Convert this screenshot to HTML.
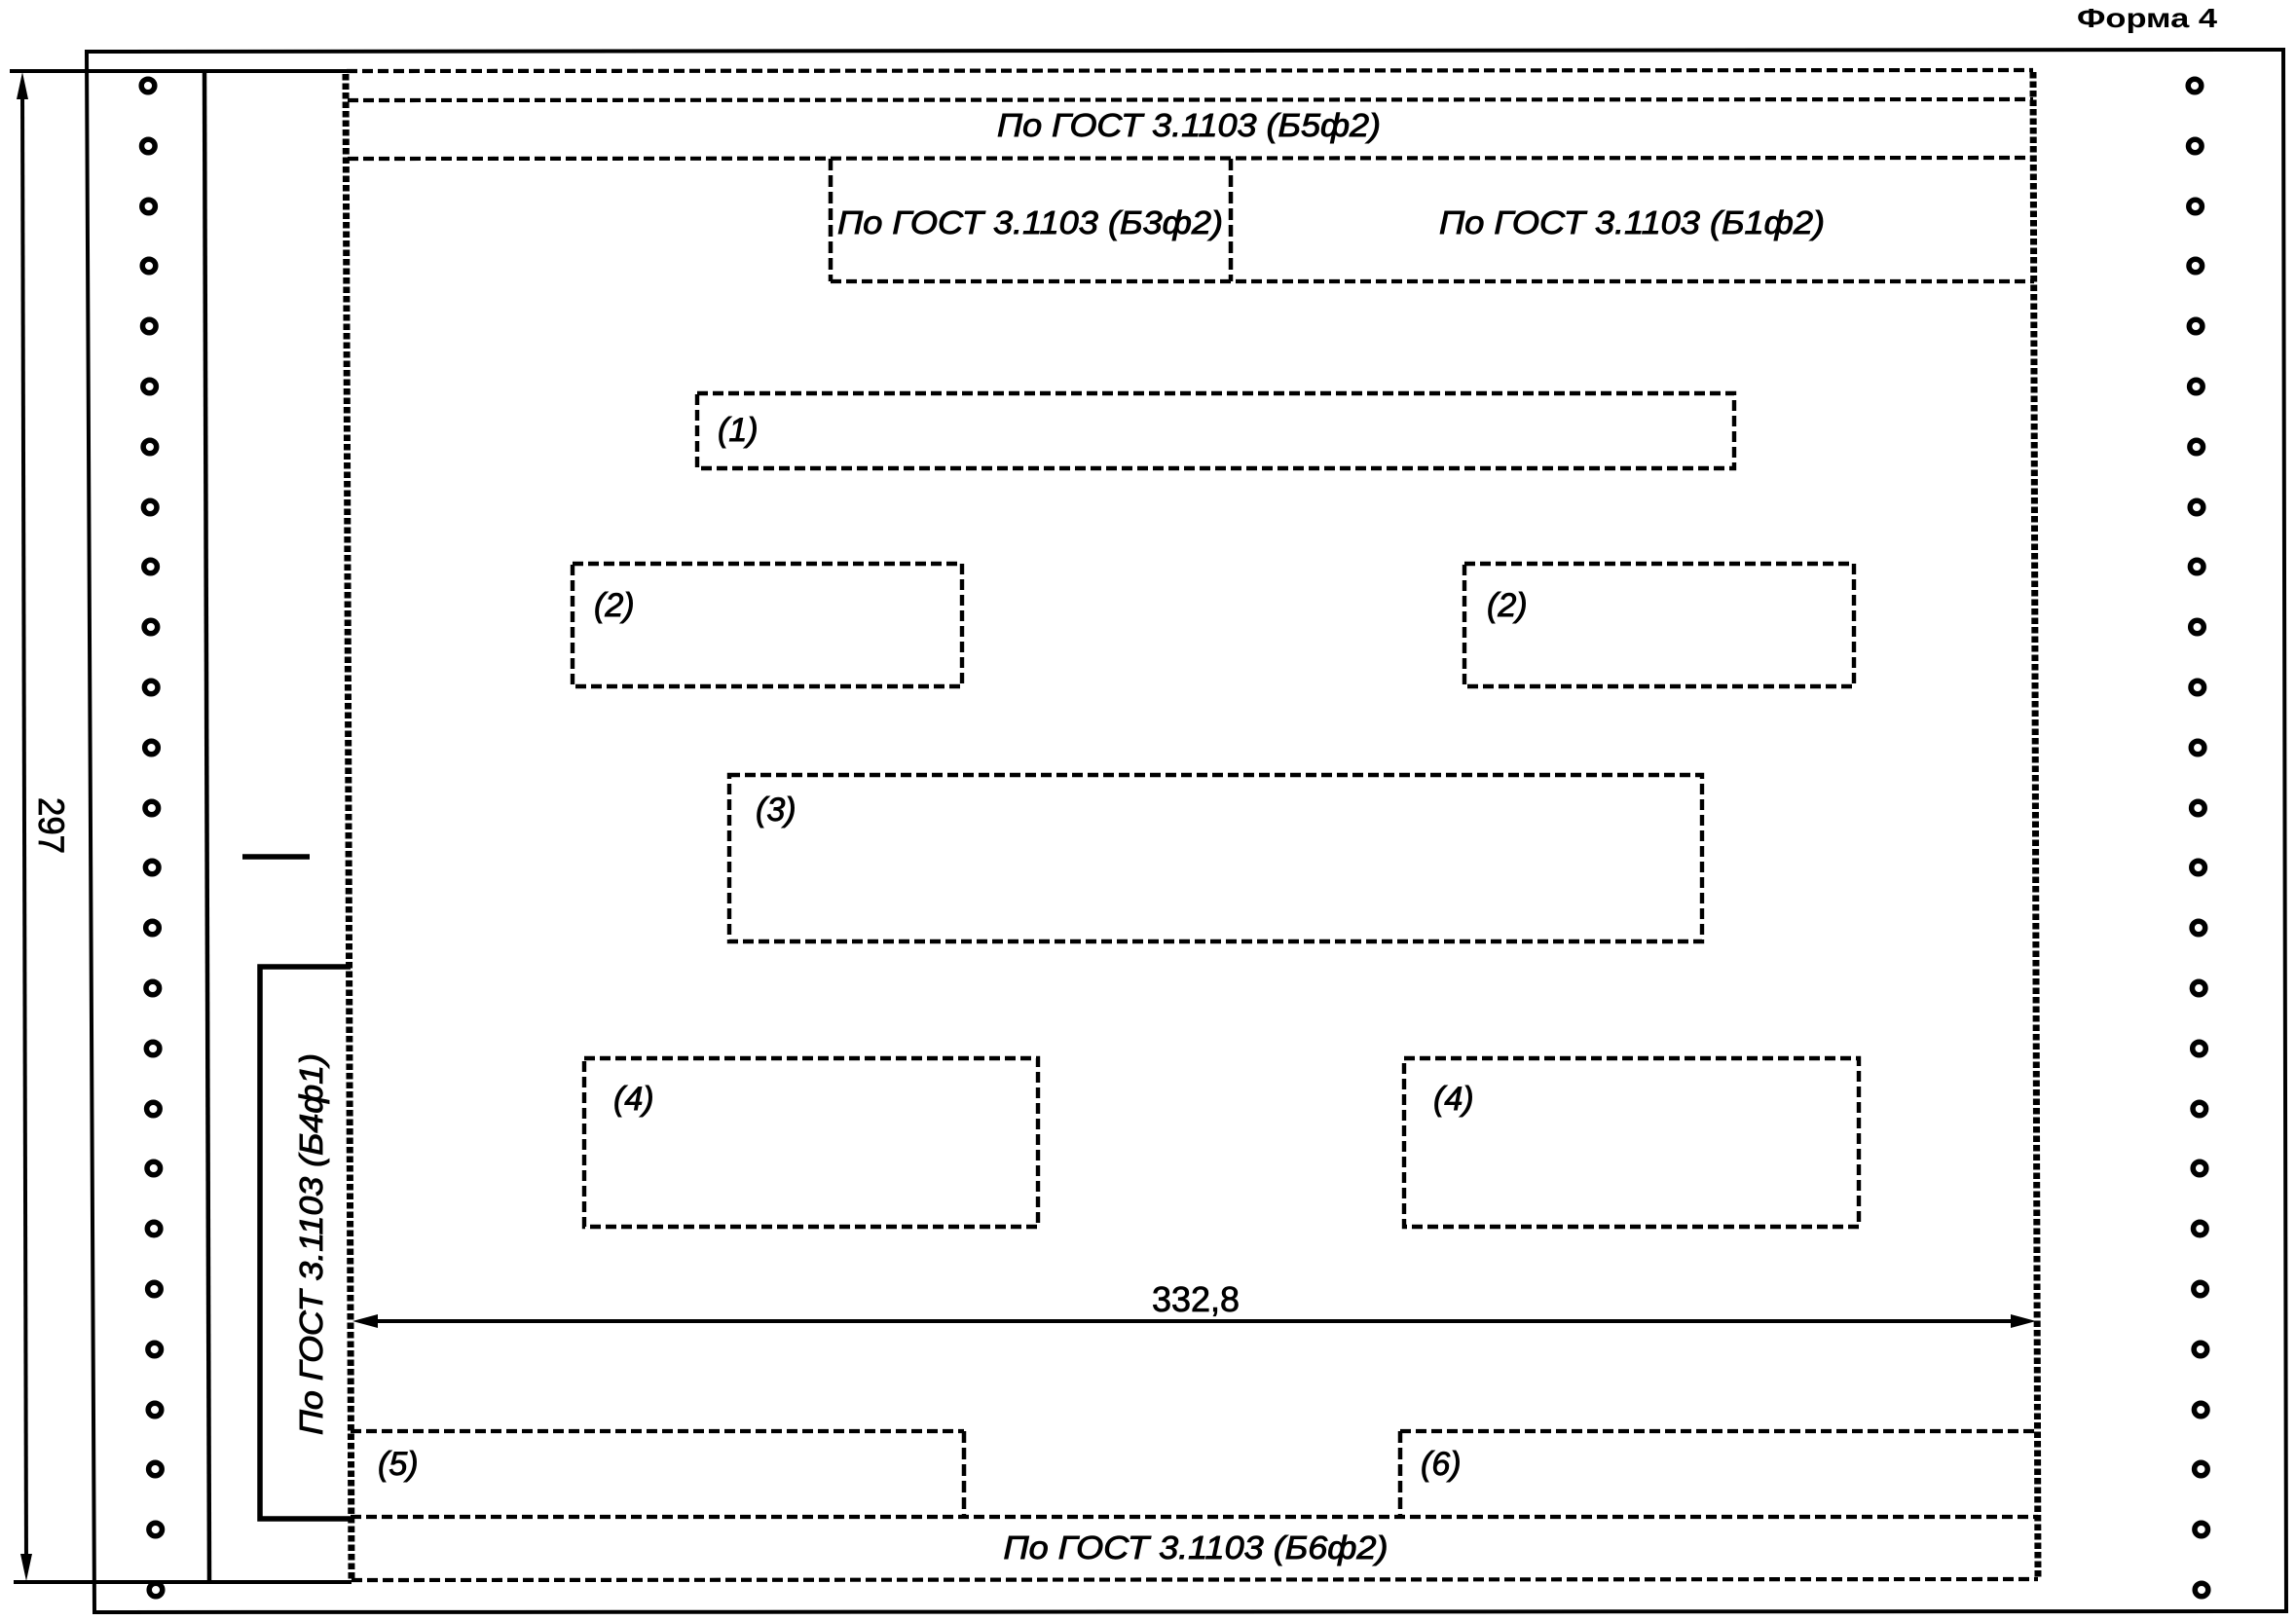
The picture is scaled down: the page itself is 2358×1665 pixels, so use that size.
<!DOCTYPE html>
<html>
<head>
<meta charset="utf-8">
<style>
html,body{margin:0;padding:0;background:#fff;}
svg{display:block;}
text{font-family:"Liberation Sans",Arial,sans-serif;fill:#000;}
.it{font-style:italic;font-size:33px;stroke:#000;stroke-width:0.9px;}
.lb{font-style:italic;font-size:34px;stroke:#000;stroke-width:0.9px;}
</style>
</head>
<body>
<svg width="2358" height="1665" viewBox="0 0 2358 1665" xmlns="http://www.w3.org/2000/svg">
<rect width="2358" height="1665" fill="#fff"/>

<!-- Форма 4 -->
<text x="2133" y="28" font-size="28" font-weight="bold" textLength="144" lengthAdjust="spacingAndGlyphs">Форма 4</text>

<!-- outer frame -->
<polygon points="89,53 2345,51 2348,1655 97,1656" fill="none" stroke="#000" stroke-width="4"/>

<!-- dimension 297 -->
<line x1="10" y1="73" x2="356" y2="73" stroke="#000" stroke-width="4"/>
<line x1="14" y1="1625" x2="361" y2="1625" stroke="#000" stroke-width="4"/>
<line x1="23" y1="90" x2="27" y2="1608" stroke="#000" stroke-width="4"/>
<polygon points="23,74 17,102 29,102" fill="#000"/>
<polygon points="27,1624 21,1596 33,1596" fill="#000"/>
<text transform="translate(40,848) rotate(90)" text-anchor="middle" font-size="37" stroke="#000" stroke-width="0.8" textLength="58" lengthAdjust="spacingAndGlyphs">297</text>

<!-- strip right line -->
<line x1="210" y1="73" x2="215" y2="1625" stroke="#000" stroke-width="4.5"/>

<!-- holes -->
<g fill="none" stroke="#000" stroke-width="5.5">
<circle cx="152" cy="88" r="6.8"/><circle cx="152.3" cy="150" r="6.8"/><circle cx="152.6" cy="212" r="6.8"/><circle cx="153" cy="273" r="6.8"/><circle cx="153.3" cy="335" r="6.8"/><circle cx="153.6" cy="397" r="6.8"/><circle cx="153.9" cy="459" r="6.8"/><circle cx="154.2" cy="521" r="6.8"/><circle cx="154.6" cy="582" r="6.8"/><circle cx="154.9" cy="644" r="6.8"/><circle cx="155.2" cy="706" r="6.8"/><circle cx="155.5" cy="768" r="6.8"/><circle cx="155.8" cy="830" r="6.8"/><circle cx="156.2" cy="891" r="6.8"/><circle cx="156.5" cy="953" r="6.8"/><circle cx="156.8" cy="1015" r="6.8"/><circle cx="157.1" cy="1077" r="6.8"/><circle cx="157.4" cy="1139" r="6.8"/><circle cx="157.8" cy="1200" r="6.8"/><circle cx="158.1" cy="1262" r="6.8"/><circle cx="158.4" cy="1324" r="6.8"/><circle cx="158.7" cy="1386" r="6.8"/><circle cx="159" cy="1448" r="6.8"/><circle cx="159.4" cy="1509" r="6.8"/><circle cx="159.7" cy="1571" r="6.8"/><circle cx="160" cy="1633" r="6.8"/>
<circle cx="2254" cy="88" r="6.8"/><circle cx="2254.3" cy="150" r="6.8"/><circle cx="2254.6" cy="212" r="6.8"/><circle cx="2254.8" cy="273" r="6.8"/><circle cx="2255.1" cy="335" r="6.8"/><circle cx="2255.4" cy="397" r="6.8"/><circle cx="2255.7" cy="459" r="6.8"/><circle cx="2256" cy="521" r="6.8"/><circle cx="2256.2" cy="582" r="6.8"/><circle cx="2256.5" cy="644" r="6.8"/><circle cx="2256.8" cy="706" r="6.8"/><circle cx="2257.1" cy="768" r="6.8"/><circle cx="2257.4" cy="830" r="6.8"/><circle cx="2257.6" cy="891" r="6.8"/><circle cx="2257.9" cy="953" r="6.8"/><circle cx="2258.2" cy="1015" r="6.8"/><circle cx="2258.5" cy="1077" r="6.8"/><circle cx="2258.8" cy="1139" r="6.8"/><circle cx="2259" cy="1200" r="6.8"/><circle cx="2259.3" cy="1262" r="6.8"/><circle cx="2259.6" cy="1324" r="6.8"/><circle cx="2259.9" cy="1386" r="6.8"/><circle cx="2260.2" cy="1448" r="6.8"/><circle cx="2260.4" cy="1509" r="6.8"/><circle cx="2260.7" cy="1571" r="6.8"/><circle cx="2261" cy="1633" r="6.8"/>
</g>

<!-- dotted main sides -->
<g stroke="#000" stroke-width="7" stroke-dasharray="6.5 3" fill="none">
<line x1="355" y1="76" x2="361" y2="1623"/>
<line x1="2088" y1="74" x2="2093" y2="1622"/>
</g>

<!-- horizontal dashed lines -->
<g stroke="#000" stroke-width="4.2" stroke-dasharray="11 5" fill="none">
<line x1="356" y1="73" x2="2088" y2="72"/>
<line x1="357" y1="103" x2="2088" y2="102"/>
<line x1="357" y1="163" x2="2088" y2="162"/>
<line x1="853" y1="289" x2="2089" y2="289"/>
<line x1="360" y1="1470" x2="990" y2="1470"/>
<line x1="1438" y1="1470" x2="2093" y2="1470"/>
<line x1="360" y1="1558" x2="2093" y2="1558"/>
<line x1="361" y1="1623" x2="2093" y2="1622"/>
</g>

<!-- vertical dashed lines -->
<g stroke="#000" stroke-width="4.5" stroke-dasharray="12 5" fill="none">
<line x1="853" y1="163" x2="853" y2="289"/>
<line x1="1264" y1="163" x2="1264" y2="289"/>
<line x1="990" y1="1470" x2="990" y2="1558"/>
<line x1="1438" y1="1470" x2="1438" y2="1558"/>
</g>

<!-- boxes -->
<g stroke="#000" stroke-width="4.4" stroke-dasharray="11 5" fill="none">
<rect x="716" y="404" width="1065" height="77"/>
<rect x="588" y="579" width="400" height="126"/>
<rect x="1504" y="579" width="400" height="126"/>
<rect x="749" y="796" width="999" height="171"/>
<rect x="600" y="1087" width="466" height="173"/>
<rect x="1442" y="1087" width="467" height="173"/>
</g>

<!-- texts -->
<text class="it" x="1221" y="140" text-anchor="middle" textLength="394" lengthAdjust="spacingAndGlyphs">По ГОСТ 3.1103 (Б5ф2)</text>
<text class="it" x="1058" y="240" text-anchor="middle" textLength="396" lengthAdjust="spacingAndGlyphs">По ГОСТ 3.1103 (Б3ф2)</text>
<text class="it" x="1676" y="240" text-anchor="middle" textLength="396" lengthAdjust="spacingAndGlyphs">По ГОСТ 3.1103 (Б1ф2)</text>
<text class="it" x="1228" y="1601" text-anchor="middle" textLength="395" lengthAdjust="spacingAndGlyphs">По ГОСТ 3.1103 (Б6ф2)</text>
<text class="it" transform="translate(331,1278) rotate(-90)" text-anchor="middle" textLength="392" lengthAdjust="spacingAndGlyphs">По ГОСТ 3.1103 (Б4ф1)</text>

<text class="lb" x="737" y="453">(1)</text>
<text class="lb" x="610" y="633">(2)</text>
<text class="lb" x="1527" y="633">(2)</text>
<text class="lb" x="776" y="843">(3)</text>
<text class="lb" x="630" y="1140">(4)</text>
<text class="lb" x="1472" y="1140">(4)</text>
<text class="lb" x="388" y="1515">(5)</text>
<text class="lb" x="1459" y="1515">(6)</text>

<!-- dimension 332,8 -->
<line x1="378" y1="1357" x2="2075" y2="1357" stroke="#000" stroke-width="4"/>
<polygon points="362,1357 388,1350 388,1364" fill="#000"/>
<polygon points="2091,1357 2065,1350 2065,1364" fill="#000"/>
<text x="1228" y="1347" text-anchor="middle" font-size="36" stroke="#000" stroke-width="0.8" textLength="90" lengthAdjust="spacingAndGlyphs">332,8</text>

<!-- short mark -->
<line x1="249" y1="880" x2="318" y2="880" stroke="#000" stroke-width="5.5"/>

<!-- Б4ф1 bracket -->
<polyline points="360,993 267,993 267,1560 362,1560" fill="none" stroke="#000" stroke-width="5.5"/>
</svg>
</body>
</html>
